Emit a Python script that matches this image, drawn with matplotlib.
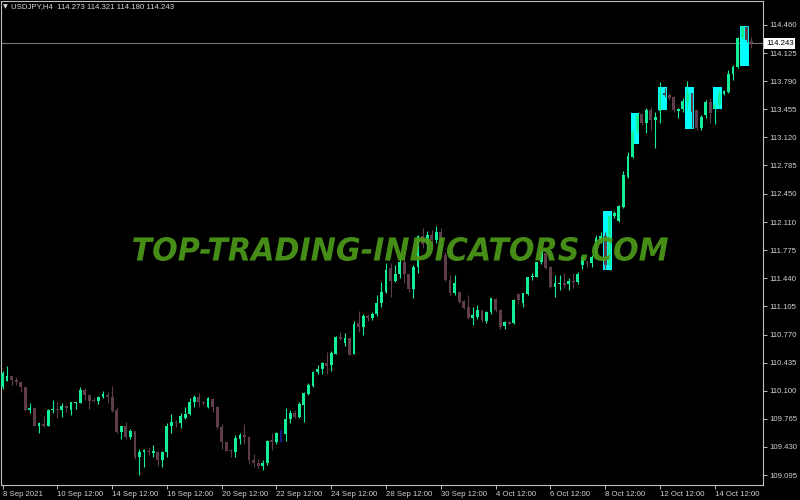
import matplotlib
matplotlib.use("Agg")
import matplotlib.pyplot as plt
from matplotlib.patches import Rectangle, PathPatch
from matplotlib.textpath import TextPath
from matplotlib.font_manager import FontProperties
from matplotlib.transforms import Affine2D

plt.rcParams['font.family'] = ['Liberation Sans', 'DejaVu Sans']

# ---------------- data ----------------
symbol_title = "USDJPY,H4"
header_ohlc = [114.273, 114.321, 114.180, 114.243]
current_price = 114.243

opens = [110.14, 110.22, 110.275, 110.23, 110.20, 110.15, 109.87, 109.89, 109.685, 109.70,
         109.685, 109.87, 109.88, 109.87, 109.92, 109.87, 109.95, 109.95, 110.11, 110.05,
         109.99, 109.98, 110.02, 110.05, 110.03, 109.87, 109.61, 109.68, 109.545, 109.62,
         109.31, 109.37, 109.385, 109.36, 109.37, 109.27, 109.37, 109.68, 109.73, 109.71,
         109.78, 109.82, 109.96, 110.02, 109.97, 109.90, 110.00, 109.91, 109.67, 109.485,
         109.39, 109.37, 109.53, 109.57, 109.55, 109.275, 109.24, 109.20, 109.235, 109.51,
         109.49, 109.49, 109.585, 109.76, 109.84, 109.79, 109.93, 110.06, 110.16, 110.32,
         110.355, 110.43, 110.41, 110.54, 110.745, 110.665, 110.73, 110.54, 110.91, 110.865,
         110.985, 110.97, 111.015, 111.14, 111.28, 111.56, 111.41, 111.49, 111.64, 111.49,
         111.31, 111.57, 111.94, 111.85, 111.96, 111.90, 111.99, 111.72, 111.42, 111.26,
         111.28, 111.17, 111.10, 110.965, 110.98, 111.05, 110.93, 111.04, 111.19, 111.06,
         110.87, 110.92, 110.91, 111.25, 111.15, 111.25, 111.45, 111.46, 111.63, 111.74,
         111.58, 111.34, 111.37, 111.38, 111.37, 111.41, 111.40, 111.60, 111.64, 111.62,
         111.70, 111.90, 111.94, 111.60, 112.18, 112.12, 112.29, 112.65, 112.89, 113.19,
         113.395, 113.29, 113.445, 113.33, 113.43, 113.65, 113.63, 113.605, 113.43, 113.455,
         113.545, 113.645, 113.445, 113.23, 113.385, 113.546, 113.465, 113.506, 113.635, 113.665,
         113.876, 113.963, 114.30, 114.44, 114.273]
highs = [110.33, 110.39, 110.28, 110.26, 110.21, 110.15, 109.95, 109.90, 109.73, 109.80,
         109.88, 109.99, 109.97, 109.95, 109.93, 109.965, 109.97, 110.15, 110.13, 110.06,
         110.02, 110.035, 110.10, 110.09, 110.155, 109.90, 109.685, 109.73, 109.645, 109.625,
         109.41, 109.41, 109.43, 109.45, 109.38, 109.38, 109.71, 109.82, 109.75, 109.83,
         109.91, 110.01, 110.05, 110.07, 109.98, 110.02, 110.01, 109.915, 109.70, 109.49,
         109.41, 109.57, 109.60, 109.70, 109.56, 109.35, 109.29, 109.27, 109.51, 109.59,
         109.61, 109.635, 109.89, 109.87, 109.87, 109.96, 110.09, 110.19, 110.34, 110.41,
         110.44, 110.56, 110.575, 110.755, 110.80, 110.785, 110.73, 110.935, 111.05, 111.02,
         111.02, 111.035, 111.24, 111.40, 111.62, 111.62, 111.60, 111.72, 111.68, 111.49,
         111.60, 111.96, 112.04, 112.00, 112.02, 112.06, 112.04, 111.75, 111.48, 111.48,
         111.29, 111.18, 111.24, 111.10, 111.12, 111.07, 111.05, 111.21, 111.20, 111.07,
         110.93, 110.93, 111.19, 111.27, 111.27, 111.46, 111.50, 111.64, 111.78, 111.75,
         111.59, 111.48, 111.48, 111.50, 111.44, 111.50, 111.52, 111.72, 111.66, 111.72,
         111.96, 111.99, 111.99, 112.20, 112.24, 112.314, 112.719, 112.95, 113.208, 113.40,
         113.41, 113.466, 113.486, 113.427, 113.784, 113.705, 113.65, 113.61, 113.474, 113.586,
         113.792, 113.65, 113.45, 113.387, 113.566, 113.586, 113.546, 113.685, 113.685, 113.923,
         113.983, 114.321, 114.452, 114.452, 114.321]
lows = [110.12, 110.21, 110.17, 110.17, 110.08, 109.86, 109.83, 109.675, 109.60, 109.67,
        109.68, 109.83, 109.78, 109.79, 109.85, 109.81, 109.88, 109.95, 109.99, 109.88,
        109.96, 109.94, 110.01, 109.95, 109.85, 109.59, 109.52, 109.53, 109.52, 109.29,
        109.095, 109.19, 109.33, 109.31, 109.20, 109.19, 109.31, 109.59, 109.67, 109.65,
        109.76, 109.81, 109.91, 109.91, 109.93, 109.89, 109.85, 109.645, 109.41, 109.38,
        109.31, 109.31, 109.46, 109.47, 109.23, 109.19, 109.175, 109.155, 109.215, 109.39,
        109.465, 109.48, 109.50, 109.71, 109.77, 109.77, 109.73, 110.05, 110.15, 110.295,
        110.30, 110.30, 110.34, 110.54, 110.71, 110.63, 110.52, 110.54, 110.80, 110.765,
        110.935, 110.945, 110.995, 111.10, 111.27, 111.22, 111.40, 111.44, 111.38, 111.28,
        111.21, 111.50, 111.80, 111.78, 111.84, 111.86, 111.70, 111.41, 111.24, 111.24,
        111.15, 111.08, 110.96, 110.88, 110.96, 110.92, 110.91, 111.02, 111.04, 110.84,
        110.84, 110.89, 110.90, 111.13, 111.10, 111.24, 111.42, 111.45, 111.61, 111.55,
        111.32, 111.22, 111.30, 111.32, 111.30, 111.32, 111.37, 111.55, 111.58, 111.58,
        111.68, 111.86, 111.55, 111.54, 112.16, 112.115, 112.282, 112.632, 112.87, 113.17,
        113.268, 113.168, 113.208, 112.989, 113.287, 113.60, 113.56, 113.427, 113.347, 113.427,
        113.446, 113.228, 113.208, 113.208, 113.347, 113.288, 113.276, 113.486, 113.625, 113.645,
        113.804, 113.943, 114.281, 114.26, 114.180]
closes = [110.31, 110.275, 110.23, 110.20, 110.14, 109.87, 109.89, 109.685, 109.71, 109.685,
          109.87, 109.88, 109.87, 109.92, 109.89, 109.96, 109.96, 110.11, 110.05, 109.98,
          109.98, 110.03, 110.06, 110.03, 109.86, 109.61, 109.68, 109.55, 109.62, 109.31,
          109.37, 109.39, 109.37, 109.38, 109.27, 109.37, 109.68, 109.73, 109.71, 109.80,
          109.82, 109.96, 110.02, 109.965, 109.95, 110.01, 109.91, 109.67, 109.485, 109.385,
          109.38, 109.54, 109.57, 109.545, 109.275, 109.24, 109.20, 109.24, 109.50, 109.49,
          109.59, 109.63, 109.76, 109.84, 109.79, 109.94, 110.07, 110.17, 110.32, 110.36,
          110.43, 110.40, 110.545, 110.745, 110.72, 110.73, 110.53, 110.90, 110.855, 110.995,
          110.965, 111.02, 111.15, 111.28, 111.545, 111.41, 111.49, 111.64, 111.49, 111.31,
          111.57, 111.94, 111.85, 111.96, 111.90, 111.99, 111.72, 111.42, 111.26, 111.39,
          111.16, 111.09, 110.97, 111.00, 111.06, 110.94, 111.04, 111.20, 111.06, 110.86,
          110.92, 110.90, 111.18, 111.18, 111.26, 111.45, 111.47, 111.63, 111.76, 111.56,
          111.34, 111.38, 111.39, 111.36, 111.41, 111.40, 111.49, 111.70, 111.62, 111.70,
          111.92, 111.94, 111.60, 112.18, 112.22, 112.30, 112.671, 112.902, 113.188, 113.387,
          113.287, 113.446, 113.327, 113.367, 113.645, 113.625, 113.594, 113.446, 113.454, 113.554,
          113.645, 113.427, 113.228, 113.367, 113.546, 113.407, 113.506, 113.645, 113.677, 113.876,
          113.963, 114.30, 114.44, 114.281, 114.243]
navy_bars = [61]

box_starts = [132, 138, 144, 150, 156, 162]
box_highs = [112.243, 113.407, 113.721, 113.717, 113.717, 114.452]
box_lows = [111.539, 113.038, 113.447, 113.217, 113.455, 113.975]

xtick_bars = [0, 12, 24, 36, 48, 60, 72, 84, 96, 108, 120, 132, 144, 156]
xtick_labels = ["8 Sep 2021", "10 Sep 12:00", "14 Sep 12:00", "16 Sep 12:00", "20 Sep 12:00",
                "22 Sep 12:00", "24 Sep 12:00", "28 Sep 12:00", "30 Sep 12:00", "4 Oct 12:00",
                "6 Oct 12:00", "8 Oct 12:00", "12 Oct 12:00", "14 Oct 12:00"]
ytick_values = [114.460, 114.125, 113.790, 113.455, 113.120, 112.785, 112.450, 112.110,
                111.775, 111.440, 111.105, 110.770, 110.435, 110.100, 109.765, 109.430, 109.095]
watermark = "TOP-TRADING-INDICATORS.COM"

# ---------------- figure ----------------
W, H = 800, 500
fig = plt.figure(figsize=(W / 100, H / 100), dpi=100, facecolor='black')
ax = fig.add_axes([1 / W, 15 / H, 762 / W, 484 / H])
ax.set_facecolor('black')
ax.set_xlim(-0.33, 166.56)
ax.set_ylim(108.976, 114.746)

BULL = '#14ee96'
BEAR = '#5e3c4a'
NAVY = '#101a80'

for i, (o, h, l, c) in enumerate(zip(opens, highs, lows, closes)):
    if i in navy_bars:
        col = NAVY
    else:
        col = BULL if c >= o else BEAR
    ax.vlines(i, l, h, color=col, lw=0.8, zorder=3)
    bot = min(o, c)
    hgt = max(abs(c - o), 0.012)
    ax.add_patch(Rectangle((i - 0.31, bot), 0.62, hgt, facecolor=col,
                           edgecolor='none', lw=0, zorder=4))

for s, hi, lo in zip(box_starts, box_highs, box_lows):
    ax.add_patch(Rectangle((s - 0.45, lo), 1.95, hi - lo, facecolor='#00ffff',
                           edgecolor='none', zorder=2))

ax.axhline(current_price, color='#7d7272', lw=0.8, zorder=1)

for sp in ax.spines.values():
    sp.set_color('#c0c0c0')
    sp.set_linewidth(0.8)

ax.yaxis.tick_right()
ax.set_yticks(ytick_values)
ax.set_yticklabels([f"{v:.3f}" for v in ytick_values])
ax.set_xticks(xtick_bars)
ax.set_xticklabels(xtick_labels, ha='left')
ax.tick_params(axis='y', colors='#c0c0c0', labelcolor='#d0d0d0', length=3, width=0.7,
               labelsize=5.6, pad=1.5)
ax.tick_params(axis='x', colors='#c0c0c0', labelcolor='#d8d0d4', length=3, width=0.7,
               labelsize=5.6, pad=1.5)
for lbl in ax.get_xticklabels():
    lbl.set_horizontalalignment('left')

# current price label
fig.text(766 / W, 1 - 43.5 / H, f"{current_price:.3f}", color='black', fontsize=5.6,
         va='center', ha='left',
         bbox=dict(boxstyle='square,pad=0.2', fc='white', ec='none'))

# header
fig.text(3 / W, 1 - 7 / H, "\u25bc", color='#d8d8d8', fontsize=4.5, va='center', ha='left',
         family='DejaVu Sans')
fig.text(11 / W, 1 - 7 / H,
         f"{symbol_title}  " + " ".join(f"{v:.3f}" for v in header_ohlc),
         color='#d8d8d8', fontsize=5.6, va='center', ha='left')

# watermark
fp = FontProperties(family='DejaVu Sans', weight='bold', style='italic')
tp = TextPath((0, 0), watermark, size=1, prop=fp)
ext = tp.get_extents()
x0, x1 = 133, 668
yb, yt = H - 261, H - 237
sx = (x1 - x0) / ext.width
sy = (yt - yb) / ext.height
tr = Affine2D().translate(-ext.x0, -ext.y0).scale(sx, sy).translate(x0, yb)
patch = PathPatch(tp, facecolor='#4c9a18', edgecolor='none', alpha=0.92,
                  transform=tr, zorder=10)
fig.add_artist(patch)

fig.savefig('out.png', dpi=100, facecolor='black')
